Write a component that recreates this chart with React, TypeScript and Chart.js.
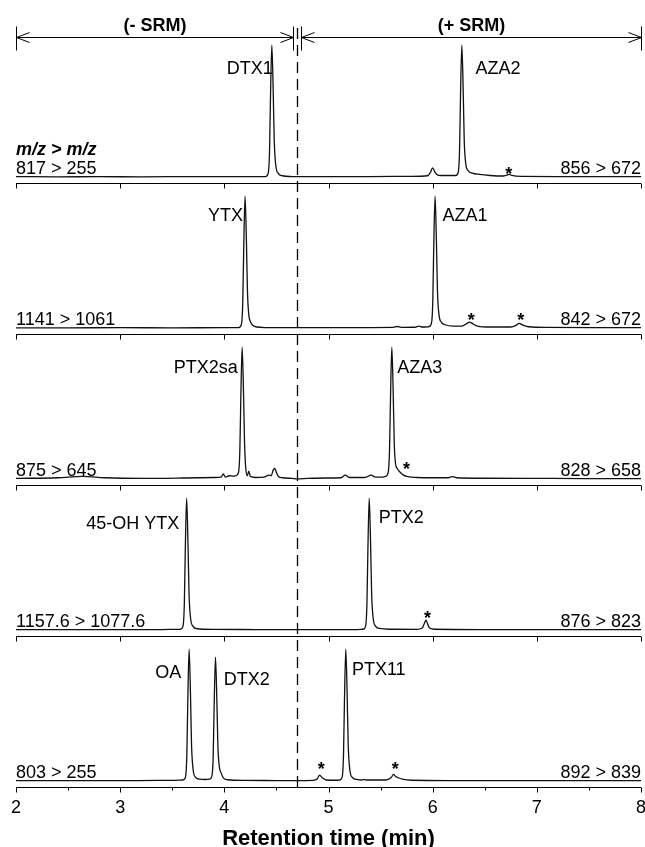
import React, { useEffect, useRef } from 'react';
import { Chart, registerables } from 'chart.js';

Chart.register(...registerables);

const FONT = '"Liberation Sans", Arial, Helvetica, sans-serif';

// ---- axis / header values ----
const xMin = 2;
const xMax = 8;
const xMajorTicks = [2, 3, 4, 5, 6, 7, 8];
const xMinorTicks = [2.5, 3.5, 4.5, 5.5, 6.5, 7.5];
const xTitle = 'Retention time (min)';
const polaritySwitch = 4.7;
const polarityLabels = ['(- SRM)', '(+ SRM)'];
const yMin = -4.5;
const yMax = 110;
const mzHeader = 'm/z > m/z';

// ---- chromatogram traces: [retention time, relative intensity] ----
const traceDtx1Aza2: [number, number][] = [
  [2.0, 0.3], [2.4, 0.2], [2.8, 0.3], [3.2, 0.2], [3.6, 0.3], [4.0, 0.4], [4.3, 0.3],
  [4.396, 0.4], [4.421, 3], [4.434, 20], [4.443, 60], [4.456, 100], [4.469, 66], [4.479, 28], [4.494, 9], [4.516, 3], [4.556, 1],
  [4.65, 0.4], [4.7, 0.3], [5.0, 0.3], [5.4, 0.4], [5.8, 0.5], [5.95, 1], [5.975, 3], [6.0, 7], [6.02, 4], [6.04, 2], [6.08, 1.2],
  [6.22, 1.2], [6.245, 3.5], [6.258, 20], [6.267, 60], [6.28, 100], [6.293, 66], [6.303, 28], [6.318, 10], [6.34, 5], [6.38, 3],
  [6.45, 2], [6.55, 1.2], [6.68, 0.8], [6.71, 1.5], [6.735, 2], [6.76, 1.2], [6.85, 0.5], [7.2, 0.4], [7.6, 0.3], [8.0, 0.3],
];

const traceYtxAza1: [number, number][] = [
  [2.0, 0.2], [2.5, 0.2], [3.0, 0.3], [3.5, 0.2], [4.0, 0.3],
  [4.139, 0.4], [4.164, 3], [4.177, 20], [4.186, 60], [4.199, 100], [4.212, 66], [4.222, 28], [4.235, 10], [4.25, 5], [4.275, 2], [4.31, 0.8],
  [4.4, 0.4], [4.7, 0.3], [5.0, 0.3], [5.4, 0.4], [5.62, 0.5], [5.66, 1.2], [5.7, 0.5], [5.83, 0.6], [5.87, 1.5], [5.9, 0.8],
  [5.963, 1], [5.988, 3.5], [6.001, 20], [6.01, 60], [6.023, 100], [6.036, 66], [6.046, 28], [6.061, 10], [6.083, 4.5], [6.12, 2.5],
  [6.2, 1.5], [6.28, 1.5], [6.33, 3.5], [6.355, 4.5], [6.38, 3.5], [6.43, 1.5], [6.55, 0.8], [6.75, 0.8], [6.8, 2], [6.83, 3.5],
  [6.86, 2.5], [6.92, 1], [7.1, 0.5], [7.6, 0.4], [8.0, 0.3],
];

const tracePtx2saAza3: [number, number][] = [
  [2.0, 0.5], [2.4, 1.0], [2.64, 2.0], [2.85, 1.0], [3.2, 0.5], [3.6, 0.8], [3.9, 1.2], [3.97, 1.5], [3.99, 4], [4.01, 1.5], [4.05, 2.5], [4.09, 2.2],
  [4.111, 2.5], [4.136, 5], [4.149, 22], [4.158, 60], [4.171, 100], [4.184, 66], [4.194, 28], [4.206, 8], [4.22, 2.5], [4.235, 6], [4.25, 2],
  [4.3, 1.2], [4.38, 1.5], [4.43, 3], [4.45, 2.5], [4.47, 7], [4.485, 8], [4.5, 5], [4.52, 2], [4.56, 1], [4.65, 0.5], [4.7, 0.2],
  [4.8, 0.5], [5.0, 0.8], [5.12, 1], [5.16, 3], [5.2, 1.2], [5.35, 1.2], [5.41, 3], [5.45, 1.5], [5.52, 1.5],
  [5.548, 2], [5.573, 5], [5.586, 22], [5.595, 60], [5.608, 100], [5.621, 66], [5.631, 28], [5.643, 12], [5.66, 8], [5.69, 5],
  [5.72, 3], [5.76, 1.8], [5.85, 1.2], [6.0, 1], [6.15, 1], [6.19, 1.8], [6.23, 1], [6.5, 0.6], [7.0, 0.5], [7.5, 0.4], [8.0, 0.4],
];

const trace45ohYtxPtx2: [number, number][] = [
  [2.0, 0.3], [2.5, 0.3], [3.0, 0.3], [3.4, 0.4], [3.55, 0.5],
  [3.578, 0.6], [3.603, 3], [3.616, 20], [3.625, 60], [3.638, 100], [3.651, 66], [3.661, 28], [3.676, 9], [3.698, 3], [3.738, 1],
  [3.9, 0.5], [4.3, 0.4], [4.7, 0.3], [5.0, 0.3], [5.25, 0.4],
  [5.331, 0.6], [5.356, 3], [5.369, 20], [5.378, 60], [5.391, 100], [5.404, 66], [5.414, 28], [5.429, 9], [5.451, 3], [5.491, 1.2],
  [5.6, 0.6], [5.85, 0.5], [5.9, 1.5], [5.92, 5], [5.936, 7.5], [5.95, 5], [5.97, 1.5], [6.02, 0.6], [6.5, 0.4], [7.0, 0.3], [7.5, 0.3], [8.0, 0.3],
];

const traceOaDtx2Ptx11: [number, number][] = [
  [2.0, 0.3], [2.5, 0.3], [3.0, 0.3], [3.35, 0.5], [3.5, 0.5],
  [3.602, 0.8], [3.627, 3], [3.64, 20], [3.649, 60], [3.662, 100], [3.675, 66], [3.685, 28], [3.7, 9], [3.722, 3], [3.76, 1.5], [3.82, 1.2], [3.86, 1.5],
  [3.88, 3.5], [3.893, 19], [3.902, 56], [3.915, 94], [3.928, 62], [3.938, 27], [3.952, 11], [3.97, 6], [3.99, 2.5], [4.03, 1],
  [4.2, 0.5], [4.5, 0.4], [4.7, 0.3], [4.85, 0.5], [4.89, 1.5], [4.915, 4.5], [4.94, 2.5], [4.98, 0.8], [5.08, 0.6],
  [5.106, 0.8], [5.131, 3], [5.144, 20], [5.153, 60], [5.166, 100], [5.179, 66], [5.189, 28], [5.204, 9], [5.226, 3], [5.27, 1.2],
  [5.32, 0.8], [5.34, 1.2], [5.36, 0.8], [5.55, 0.8], [5.6, 2.5], [5.625, 5], [5.645, 3.5], [5.67, 2.5], [5.72, 1.2], [5.8, 0.6],
  [6.2, 0.4], [7.0, 0.3], [8.0, 0.3],
];

const traces = [traceDtx1Aza2, traceYtxAza1, tracePtx2saAza3, trace45ohYtxPtx2, traceOaDtx2Ptx11];

// ---- annotations per panel ----
const transitionsNeg = ['817 > 255', '1141 > 1061', '875 > 645', '1157.6 > 1077.6', '803 > 255'];
const transitionsPos = ['856 > 672', '842 > 672', '828 > 658', '876 > 823', '892 > 839'];

const peakNames = [['DTX1', 'AZA2'], ['YTX', 'AZA1'], ['PTX2sa', 'AZA3'], ['45-OH YTX', 'PTX2'], ['OA', 'DTX2', 'PTX11']];
const peakNameX = [[4.466, 6.41], [4.18, 6.094], [4.128, 5.66], [3.567, 5.482], [3.587, 3.994, 5.225]];
const peakNameY = [[82.7, 82.7], [85.7, 85.7], [85, 85], [81.2, 85.7], [82.7, 78, 85]];
const peakNameSide = [['right', 'left'], ['right', 'left'], ['right', 'left'], ['right', 'left'], ['right', 'left', 'left']];

const starX = [[6.73], [6.37, 6.845], [5.75], [5.95], [4.93, 5.64]];
const starY = [[5.4], [9.9, 9.9], [10.7], [12.9], [12.2, 12.2]];

const panelKeys = traces.map((_, i) => 'y' + (i + 1));

const decorPlugin = {
  id: 'chromDecor',
  afterDraw(chart: any) {
    const ctx = chart.ctx as CanvasRenderingContext2D;
    const xs = chart.scales.x;
    const px = (v: number) => xs.getPixelForValue(v);
    const ys = panelKeys.map((k) => chart.scales[k]);
    const area = chart.chartArea;
    const xl = px(xMin);
    const xr = px(xMax);

    ctx.save();
    ctx.strokeStyle = '#000';
    ctx.fillStyle = '#000';
    ctx.lineWidth = 1;

    // panel separator lines (top of panels 2..5) with inward ticks
    for (let i = 1; i < ys.length; i++) {
      const y = Math.round(ys[i].top) + 0.5;
      ctx.beginPath();
      ctx.moveTo(xl, y);
      ctx.lineTo(xr, y);
      for (const t of xMajorTicks) {
        const x = Math.round(px(t)) + 0.5;
        ctx.moveTo(x, y);
        ctx.lineTo(x, y + 5);
      }
      ctx.stroke();
    }

    // bottom axis
    const yb = Math.round(area.bottom) + 0.5;
    ctx.beginPath();
    ctx.moveTo(xl, yb);
    ctx.lineTo(xr, yb);
    for (const t of xMajorTicks) {
      const x = Math.round(px(t)) + 0.5;
      ctx.moveTo(x, yb);
      ctx.lineTo(x, yb + 5);
    }
    for (const t of xMinorTicks) {
      const x = Math.round(px(t)) + 0.5;
      ctx.moveTo(x, yb);
      ctx.lineTo(x, yb + 3);
    }
    ctx.stroke();

    ctx.font = `18px ${FONT}`;
    ctx.textAlign = 'center';
    ctx.textBaseline = 'alphabetic';
    for (const t of xMajorTicks) {
      ctx.fillText(String(t), px(t), yb + 25);
    }
    ctx.font = `bold 22px ${FONT}`;
    ctx.fillText(xTitle, (xl + xr) / 2, yb + 57);

    // dashed polarity switch line
    const xd = Math.round(px(polaritySwitch)) + 0.5;
    ctx.save();
    ctx.setLineDash([11, 6]);
    ctx.lineWidth = 1.3;
    ctx.beginPath();
    ctx.moveTo(xd, area.top - 4);
    ctx.lineTo(xd, area.bottom);
    ctx.stroke();
    ctx.restore();

    // header arrows
    const ay = Math.round(area.top + 5) + 0.5;
    const segs = [[xMin, polaritySwitch - 0.038], [polaritySwitch + 0.038, xMax]];
    ctx.lineWidth = 1;
    segs.forEach(([a, b], i) => {
      const x0 = Math.round(px(a)) + 0.5;
      const x1 = Math.round(px(b)) + 0.5;
      ctx.beginPath();
      ctx.moveTo(x0, ay);
      ctx.lineTo(x1, ay);
      ctx.moveTo(x0, ay - 11);
      ctx.lineTo(x0, ay + 13);
      ctx.moveTo(x1, ay - 11);
      ctx.lineTo(x1, ay + 13);
      ctx.moveTo(x0 + 13, ay - 5);
      ctx.lineTo(x0, ay);
      ctx.lineTo(x0 + 13, ay + 5);
      ctx.moveTo(x1 - 13, ay - 5);
      ctx.lineTo(x1, ay);
      ctx.lineTo(x1 - 13, ay + 5);
      ctx.stroke();
      ctx.font = `bold 18px ${FONT}`;
      ctx.textAlign = 'center';
      ctx.fillText(polarityLabels[i], (x0 + x1) / 2, area.top - 1);
    });

    // m/z header
    ctx.font = `italic bold 18px ${FONT}`;
    ctx.textAlign = 'left';
    ctx.fillText(mzHeader, xl, ys[0].getPixelForValue(17.1));

    // per-panel labels
    ys.forEach((ysc: any, i: number) => {
      ctx.font = `18px ${FONT}`;
      const base = ysc.getPixelForValue(2.5);
      ctx.textAlign = 'left';
      ctx.fillText(transitionsNeg[i], xl, base);
      ctx.textAlign = 'right';
      ctx.fillText(transitionsPos[i], xr, base);

      peakNames[i].forEach((name, j) => {
        ctx.textAlign = peakNameSide[i][j] as CanvasTextAlign;
        ctx.fillText(name, px(peakNameX[i][j]), ysc.getPixelForValue(peakNameY[i][j]) + 6.4);
      });

      ctx.font = `bold 18px ${FONT}`;
      ctx.textAlign = 'center';
      starX[i].forEach((sx, j) => {
        ctx.fillText('*', px(sx), ysc.getPixelForValue(starY[i][j]) + 10.5);
      });
    });

    ctx.restore();
  },
};

export default function App() {
  const canvasRef = useRef<HTMLCanvasElement | null>(null);

  useEffect(() => {
    const canvas = canvasRef.current;
    if (!canvas) return;

    const scales: any = {
      x: { type: 'linear', min: xMin, max: xMax, display: false },
    };
    panelKeys.forEach((k) => {
      scales[k] = {
        type: 'linear',
        min: yMin,
        max: yMax,
        display: false,
        position: 'right',
        stack: 'panels',
        stackWeight: 1,
      };
    });

    const chart = new Chart(canvas, {
      type: 'line',
      data: {
        datasets: traces.map((t, i) => ({
          label: peakNames[i].join(' / '),
          data: t.map(([x, y]) => ({ x, y })),
          xAxisID: 'x',
          yAxisID: panelKeys[i],
          borderColor: '#111',
          borderWidth: 1.3,
          pointRadius: 0,
          fill: false,
          cubicInterpolationMode: 'monotone' as const,
        })),
      },
      options: {
        responsive: false,
        maintainAspectRatio: false,
        animation: false,
        devicePixelRatio: 1,
        layout: { padding: { left: 16, right: 4, top: 32, bottom: 60 } },
        plugins: { legend: { display: false }, tooltip: { enabled: false } },
        scales,
      },
      plugins: [decorPlugin],
    });

    return () => chart.destroy();
  }, []);

  return (
    <div style={{ position: 'absolute', left: 0, top: 0, width: 645, height: 847, background: '#fff' }}>
      <canvas ref={canvasRef} width={645} height={847} style={{ display: 'block', width: 645, height: 847 }} />
    </div>
  );
}
